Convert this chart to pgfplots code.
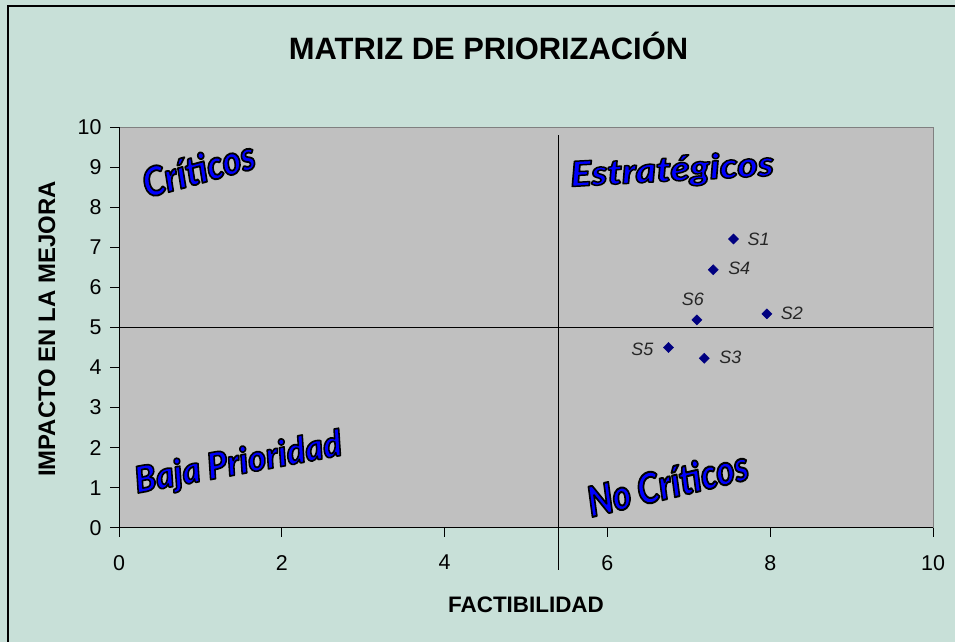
\documentclass[border=0pt]{standalone}
\usepackage{fontspec}
\setmainfont{Liberation Sans}
\newfontfamily\heavy{Lato Black Italic}
\usepackage{pgfplots}
\usepackage{pgfplotstable}
\pgfplotsset{compat=1.18}
\definecolor{bgteal}{HTML}{C8E0D8}
\definecolor{plotgray}{HTML}{C0C0C0}
\definecolor{navy}{HTML}{000080}
\definecolor{wordblue}{HTML}{0000FF}
\definecolor{lblgray}{HTML}{262626}
\newcommand{\outl}[1]{\special{pdf:literal direct 0 0 0 RG 1.4 w 1 j 2 Tr}#1\special{pdf:literal direct 0 Tr}}
\newcommand{\wa}{\fontsize{31}{31}\selectfont\heavy}
\pgfplotstableread{
x y lbl dx dy
7.55 7.21 S1 25 0
7.96 5.34 S2 25 0.7
7.19 4.23 S3 26 1
7.30 6.44 S4 26 1.4
6.75 4.50 S5 -26 -1.6
7.10 5.19 S6 -4 20.7
}\pts
\begin{document}
\begin{tikzpicture}[x=1bp,y=1bp]
\fill[bgteal] (0,0) rectangle (955,642);
\draw[black,line width=1.5bp] (8,-5) -- (8,636) -- (960,636);
\node[anchor=base, font=\fontsize{31}{31}\selectfont\bfseries] at (488.5,582) {MATRIZ DE PRIORIZACIÓN};
\begin{axis}[
  at={(119bp,114.3bp)}, anchor=south west,
  width=814bp, height=400.4bp, scale only axis,
  xmin=0,xmax=10,ymin=0,ymax=10,
  xtick={0,2,...,10}, ytick={0,1,...,10},
  xtick pos=bottom, ytick pos=left,
  tick align=outside, major tick length=9bp,
  tick style={black, line width=0.8bp},
  axis background/.style={fill=plotgray},
  axis line style={draw=gray, line width=1bp},
  ticklabel style={font=\fontsize{21.5}{21.5}\selectfont},
  xticklabel style={yshift=-15bp},
  yticklabel style={xshift=-5bp},
  /pgf/number format/assume math mode=true,
  xlabel={FACTIBILIDAD}, ylabel={IMPACTO EN LA MEJORA},
  every axis x label/.style={at={(axis description cs:0.5,0)}, anchor=base, yshift=-85bp, font=\fontsize{22.5}{22.5}\selectfont\bfseries},
  every axis y label/.style={at={(axis description cs:0,0.496)}, rotate=90, anchor=base, yshift=64bp, font=\fontsize{24}{24}\selectfont\bfseries},
  clip=false,
]
\addplot[black, line width=1bp] coordinates {(0,10) (0,0) (10,0)};
\addplot[black, line width=1.5bp] coordinates {(0,5) (10,5)};
\addplot[black, line width=1.8bp] coordinates {(5.4,9.8) (5.4,-1.06)};
\addplot[only marks, mark=square*, mark size=3.6bp, mark options={rotate=45, fill=navy, draw=navy},
  nodes near coords, point meta=explicit symbolic,
  visualization depends on={\thisrow{dx}\as\ddx},
  visualization depends on={\thisrow{dy}\as\ddy},
  every node near coord/.style={anchor=center, inner sep=0pt, xshift=\ddx*1bp, yshift=\ddy*1bp, text=lblgray, font=\fontsize{18}{18}\selectfont\itshape}]
  table[x=x, y=y, meta=lbl] {\pts};
\node[anchor=base west, rotate=15.3, text=wordblue, inner sep=0pt] at (axis cs:0.34,8.23) {\scalebox{1.16}[1.3]{\wa\outl{Críticos}}};
\node[anchor=base west, rotate=3.1, text=wordblue, inner sep=0pt] at (axis cs:5.55,8.52) {\scalebox{1.2}[1.05]{\fontsize{33}{33}\selectfont\heavy\outl{Estratégicos}}};
\node[anchor=base west, rotate=10.5, text=wordblue, inner sep=0pt] at (axis cs:0.22,0.86) {\scalebox{1.12}[1.18]{\wa\outl{Baja Prioridad}}};
\node[anchor=base west, rotate=13.5, text=wordblue, inner sep=0pt] at (axis cs:5.8,0.26) {\scalebox{1.18}[1.4]{\fontsize{30}{30}\selectfont\heavy\outl{No Críticos}}};
\end{axis}
\pgfresetboundingbox
\useasboundingbox (0,0) rectangle (955,642);
\end{tikzpicture}
\end{document}
